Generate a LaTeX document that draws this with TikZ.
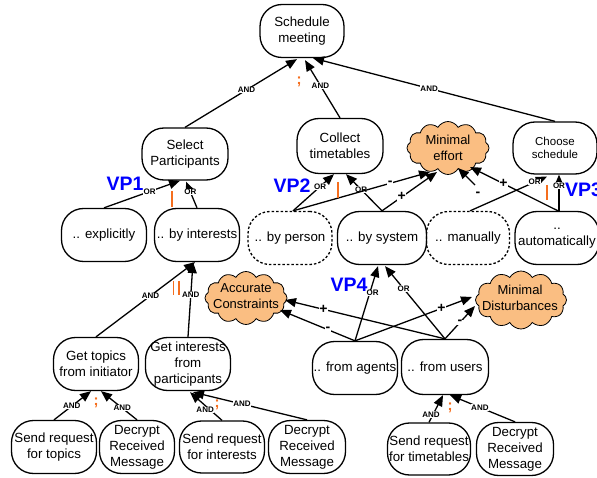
\documentclass[tikz,border=0pt]{standalone}
\usepackage{fontspec}
\setmainfont{Liberation Sans}
\usetikzlibrary{arrows.meta,shapes.symbols}
\definecolor{cloudfill}{RGB}{250,190,130}
\definecolor{markc}{RGB}{245,110,30}
\definecolor{vpblue}{RGB}{0,0,255}
\begin{document}
\begin{tikzpicture}[x=1pt,y=-1pt,
 goal/.style={draw,line width=1.3pt,rounded corners=22pt,minimum width=85pt,minimum height=53pt,align=center,font=\fontsize{13.3}{16}\selectfont,inner sep=1pt},
 optgoal/.style={goal,dash pattern=on 2.5pt off 2pt},
 soft/.style={cloud,cloud puffs=12,cloud puff arc=120,aspect=1.6,draw,line width=0.8pt,fill=cloudfill,inner sep=0pt},
 softtext/.style={align=center,font=\fontsize{13}{16}\selectfont,inner sep=0pt},
 arr/.style={line width=1.3pt,-{Triangle[length=11pt,width=9pt]}},
 lbl/.style={font=\fontsize{8}{8}\bfseries\selectfont,fill=white,inner sep=0.5pt},
 pmsign/.style={font=\fontsize{14}{14}\bfseries\selectfont,fill=white,inner sep=0.5pt},
 orangemark/.style={text=markc,font=\fontsize{15}{15}\bfseries\selectfont,inner sep=0pt},
 orangebar/.style={draw=markc,line width=1.6pt},
 vp/.style={text=vpblue,font=\fontsize{19.5}{19.5}\bfseries\selectfont,inner sep=0pt}
]
\useasboundingbox (0,0) rectangle (597,478);

% goals
\node[goal,minimum width=84pt] (sm) at (302,31) {Schedule\\meeting};
\node[goal,minimum width=86pt,minimum height=52pt] (sp) at (185,154) {Select\\Participants};
\node[goal,minimum width=86pt,minimum height=55pt] (ct) at (340,146) {Collect\\timetables};
\node[soft,minimum width=82pt,minimum height=53pt] (me) at (448,148) {};
\node[softtext] (met) at (448,148) {Minimal\\effort};
\node[goal,minimum width=84pt,minimum height=52pt,font=\fontsize{11.5}{13.5}\selectfont] (cs) at (555,148) {Choose\\schedule};
\node[goal] (ex) at (104,235) {.. explicitly};
\node[goal] (bi) at (197,235) {.. by interests};
\node[optgoal,minimum width=84pt] (bp) at (290,238) {.. by person};
\node[goal,minimum width=89pt] (bs) at (382,238) {.. by system};
\node[optgoal,minimum width=83pt] (ma) at (468,238) {.. manually};
\node[goal,minimum width=84pt] (au) at (557,238) {..\\automatically};
\node[soft,minimum width=82pt,minimum height=53pt] (ac) at (246,298) {};
\node[softtext] (act) at (246,296) {Accurate\\Constraints};
\node[soft,minimum width=91pt,minimum height=58pt] (md) at (521,300) {};
\node[softtext] (mdt) at (520,298) {Minimal\\Disturbances};
\node[goal] (fa) at (355,368) {.. from agents};
\node[goal,minimum width=87pt,minimum height=55pt] (fu) at (445,367) {.. from users};
\node[goal] (gt) at (96,364) {Get topics\\from initiator};
\node[goal] (gi) at (188,364) {Get interests\\from\\participants};
\node[goal] (sr1) at (54,447) {Send request\\for topics};
\node[goal,minimum width=75pt] (dr1) at (137,447) {Decrypt\\Received\\Message};
\node[goal,minimum height=52pt] (sr2) at (222,447) {Send request\\for interests};
\node[goal,minimum width=77pt] (dr2) at (307,447) {Decrypt\\Received\\Message};
\node[goal,minimum width=83pt,minimum height=52pt] (sr3) at (429,449) {Send request\\for timetables};
\node[goal,minimum width=77pt] (dr3) at (515,449) {Decrypt\\Received\\Message};

% AND decompositions
\draw[arr] (sp.north) -- node[lbl,pos=0.55]{AND} ([shift={(-5,1)}]sm.south);
\draw[arr] (ct.north) -- node[lbl,pos=0.56]{AND} ([shift={(3,2)}]sm.south);
\draw[arr] (cs.north) -- node[lbl,pos=0.52]{AND} ([shift={(11,0)}]sm.south);
\draw[arr] (gt.north) -- node[lbl,pos=0.55]{AND} ([shift={(-2,0)}]bi.south);
\draw[arr] (gi.north) -- node[lbl,pos=0.56]{AND} ([shift={(-4,0)}]bi.south);
\draw[arr] (sr1.north) -- node[lbl,pos=0.48]{AND} ([shift={(-5,0)}]gt.south);
\draw[arr] (dr1.north) -- node[lbl,pos=0.41]{AND} ([shift={(5,0)}]gt.south);
\draw[arr] (sr2.north) -- node[lbl,pos=0.37,xshift=-5pt]{AND} ([shift={(2,1)}]gi.south);
\draw[arr] (dr2.north) -- node[lbl,pos=0.57]{AND} ([shift={(5,1)}]gi.south);
\draw[arr] (sr3.north) -- node[lbl,pos=0.29,xshift=-2pt]{AND} ([shift={(-2,0)}]fu.south);
\draw[arr] (dr3.north) -- node[lbl,pos=0.54]{AND} ([shift={(5,0)}]fu.south);

% OR decompositions
\draw[arr] (ex.north) -- node[lbl,pos=0.6]{OR} ([shift={(-5,0)}]sp.south);
\draw[arr] (bi.north) -- node[lbl,pos=0.6]{OR} ([shift={(1,1)}]sp.south);
\draw[arr] ([shift={(3,0)}]bp.north) -- node[lbl,pos=0.66]{OR} ([shift={(-6,0)}]ct.south);
\draw[arr] (bs.north) -- node[lbl,pos=0.58]{OR} ([shift={(6,0)}]ct.south);
\draw[arr] ([shift={(2,0)}]ma.north) -- node[lbl,pos=0.84]{OR} ([shift={(-8,2)}]cs.south);
\draw[arr] ([shift={(2,0)}]au.north) -- node[lbl,pos=0.7]{OR} ([shift={(4,0)}]cs.south);
\draw[arr] (fa.north) -- node[lbl,pos=0.64,xshift=3pt]{OR} ([shift={(-4,1)}]bs.south);
\draw[arr] (fu.north) -- node[lbl,pos=0.69]{OR} ([shift={(3,1)}]bs.south);

% contributions
\draw[arr] ([shift={(3,0)}]bp.north) -- node[pmsign,pos=0.71]{-} ([shift={(-18,24)}]me.center);
\draw[arr] (bs.north) -- node[pmsign,pos=0.36]{+} ([shift={(-11,24)}]me.center);
\draw[arr] ([shift={(1,0)}]au.north) -- node[pmsign,pos=0.62]{+} ([shift={(22,19)}]me.center);
\coordinate (mx) at (475,185);
\draw[arr] (mx) -- ([shift={(10,20)}]me.center);
\node[pmsign] (mminus) at (478,194) {-};
\draw[arr] (fa.north) -- node[pmsign,pos=0.36]{-} ([shift={(34,12)}]ac.center);
\draw[arr] (fu.north) -- node[pmsign,pos=0.76]{+} ([shift={(39,2)}]ac.center);
\draw[arr] (fa.north) -- node[pmsign,pos=0.74]{+} ([shift={(-49,-3)}]md.center);
\draw[arr] (fu.north) -- node[pmsign,pos=0.5]{-} ([shift={(-46,6)}]md.center);

% variation points
\node[vp] (vp1) at (125,184) {VP1};
\node[vp] (vp2) at (292,186) {VP2};
\node[vp,anchor=west] (vp3) at (565,190) {VP3};
\node[vp] (vp4) at (349,285) {VP4};

% orange marks
\node[orangemark] (sc1) at (299,82) {;};
\node[orangemark] (sc2) at (96,403) {;};
\node[orangemark] (sc3) at (217,405) {;};
\node[orangemark] (sc4) at (450,408) {;};
\draw[orangebar] (172,191) -- (172,207);
\draw[orangebar] (338,182) -- (338,198);
\draw[orangebar] (547,185) -- (547,200);
\draw[orangebar] (173.5,281) -- (173.5,295);
\draw[orangebar] (179,281) -- (179,295);
\end{tikzpicture}
\end{document}
